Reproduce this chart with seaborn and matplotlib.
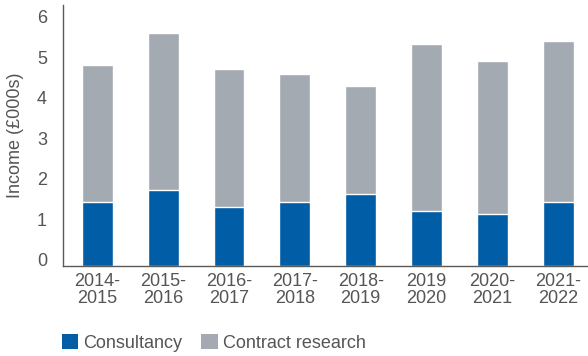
import matplotlib
matplotlib.use("Agg")
import matplotlib.pyplot as plt
import matplotlib.transforms as mtransforms
from matplotlib.patches import Patch
from matplotlib.ticker import FixedLocator
import numpy as np
import pandas as pd
import seaborn as sns

# Income by financial year (£000s)
years = ["2014-\n2015", "2015-\n2016", "2016-\n2017", "2017-\n2018",
         "2018-\n2019", "2019\n2020", "2020-\n2021", "2021-\n2022"]
consultancy = [1.58, 1.88, 1.46, 1.58, 1.78, 1.36, 1.28, 1.58]
contract_research = [3.38, 3.87, 3.40, 3.16, 2.66, 4.12, 3.78, 3.98]
y_ticks = [0, 1, 2, 3, 4, 5, 6]

BLUE = "#005DA6"
GREY = "#A3AAB1"
TEXT = "#555555"
AXIS = "#5a5a5a"
FS = 13

sns.set_theme(style="white")
plt.rcParams["font.family"] = ["Liberation Sans", "DejaVu Sans"]

df = pd.DataFrame({
    "year": years,
    "consultancy": consultancy,
    "contract": contract_research,
})
df["total"] = df["consultancy"] + df["contract"]

fig = plt.figure(figsize=(5.88, 3.56), dpi=100)
ax = fig.add_axes([63 / 588, 90 / 356, 1 - 63 / 588, 261 / 356])

# stacked bars: full height in grey, consultancy share overlaid in blue
sns.barplot(data=df, x="year", y="total", color=GREY, width=0.47,
            saturation=1, ax=ax)
sns.barplot(data=df, x="year", y="consultancy", color=BLUE, width=0.47,
            saturation=1, ax=ax)

ax.set_xlim(-0.52, 7.45)
ax.set_ylim(0, 6.44)
ax.set_yticks(y_ticks)
ax.set_yticklabels([str(t) for t in y_ticks])
ax.set_xlabel("")
ax.set_ylabel("Income (£000s)", fontsize=FS, color=TEXT, labelpad=9)

for side in ("top", "right"):
    ax.spines[side].set_visible(False)
for side in ("left", "bottom"):
    ax.spines[side].set_color(AXIS)
    ax.spines[side].set_linewidth(1.0)

ax.tick_params(axis="y", length=0, pad=11.5, labelsize=FS, labelcolor=TEXT)
ax.tick_params(axis="x", which="major", length=0, pad=5, labelsize=FS,
               labelcolor=TEXT)
ax.xaxis.set_minor_locator(FixedLocator(np.arange(0.5, len(years) - 0.5, 1.0)))
ax.tick_params(axis="x", which="minor", length=13.7, width=1.0, color=AXIS,
               direction="out")
for lbl in ax.get_xticklabels():
    lbl.set_linespacing(1.0)

# y labels sit slightly above their gridline positions
offset = mtransforms.ScaledTranslation(0, 6 / 100, fig.dpi_scale_trans)
for lbl in ax.get_yticklabels():
    lbl.set_transform(lbl.get_transform() + offset)

handles = [Patch(facecolor=BLUE, edgecolor="none", label="Consultancy"),
           Patch(facecolor=GREY, edgecolor="none", label="Contract research")]
fig.legend(handles=handles, loc="center left",
           bbox_to_anchor=(62 / 588, 13 / 356), ncol=2, frameon=False,
           fontsize=FS, labelcolor=TEXT, handlelength=0.9,
           handleheight=0.85, handletextpad=0.28, columnspacing=1.05,
           borderpad=0, borderaxespad=0)

fig.savefig("out.png", dpi=100)
